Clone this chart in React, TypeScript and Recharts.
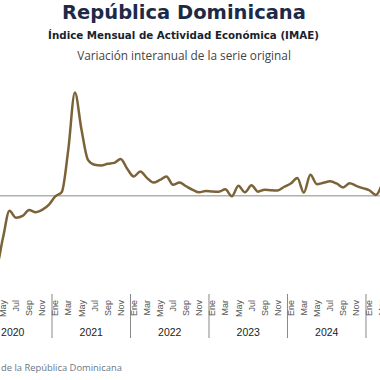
import { LineChart, Line, XAxis, YAxis, ReferenceLine } from 'recharts';

// month abbreviations used on the axis (Spanish)
const MONTHS = ['Ene', 'Feb', 'Mar', 'Abr', 'May', 'Jun', 'Jul', 'Ago', 'Sep', 'Oct', 'Nov', 'Dic'];
const YEARS = [2020, 2021, 2022, 2023, 2024, 2025];

// IMAE, variación interanual (%), serie original
const V2020 = [5.0, 5.1, -10.0, -29.8, -18.0, -6.4, -9.4, -8.6, -6.1, -7.0, -6.0, -3.9];
const V2021 = [-0.2, 1.7, 20.0, 44.2, 28.5, 15.4, 13.3, 13.0, 13.7, 14.1, 15.8, 11.6];
const V2022 = [8.3, 10.4, 7.7, 5.7, 6.8, 8.3, 4.7, 5.7, 4.1, 2.6, 1.5, 2.1];
const V2023 = [1.9, 1.8, 2.8, -0.2, 4.3, 1.5, 4.5, 1.8, 2.6, 2.4, 2.3, 3.9];
const V2024 = [5.3, 7.6, 1.4, 9.0, 5.0, 5.6, 6.2, 5.3, 3.6, 5.4, 4.3, 3.3];
const V2025 = [2.4, 0.4, 5.5];

const SERIES = [V2020, V2021, V2022, V2023, V2024, V2025];

const rows = SERIES.flatMap((vals, y) =>
  vals.map((v, m) => ({ i: y * 12 + m, value: v })),
);

// one axis carries month labels (every 2nd month), year labels (mid-year) and year separators
// the first visible month label is May 2020
const monthTicks = rows.filter((r) => r.i % 2 === 0 && r.i >= 4).map((r) => r.i);
const yearMidTicks = YEARS.slice(0, 5).map((_, k) => k * 12 + 5.5);
const yearSepTicks = YEARS.slice(0, 5).map((_, k) => k * 12 + 11.5);
const allTicks = [...monthTicks, ...yearMidTicks, ...yearSepTicks].sort((a, b) => a - b);

const AXIS_FONT = '"Liberation Sans", Arial, sans-serif';
const LINE_COLOR = '#7b6337';

function AxisTick({ x, y, payload }: any) {
  const v = payload.value;
  const r = ((v % 12) + 12) % 12;
  if (r === 11.5) {
    return <line x1={x} x2={x} y1={y} y2={y + 44} stroke="#888" strokeWidth={1} />;
  }
  if (r === 5.5) {
    return (
      <text x={x} y={y + 35} dy="0.71em" textAnchor="middle" fontSize={10.5} fontFamily={AXIS_FONT} fill="#222">
        {YEARS[Math.floor(v / 12)]}
      </text>
    );
  }
  const ty = y + 6;
  return (
    <text
      x={x}
      y={ty}
      transform={`rotate(-90 ${x} ${ty})`}
      textAnchor="end"
      dy="0.35em"
      fontSize={9}
      fontFamily={AXIS_FONT}
      fill="#555"
    >
      {MONTHS[r]}
    </text>
  );
}

export default function App() {
  return (
    <div style={{ position: 'absolute', left: 0, top: 0, width: 380, height: 380, overflow: 'hidden', background: '#fff' }}>
      <div style={{ position: 'absolute', left: -40, top: 0 }}>
        <LineChart width={440} height={380} data={rows} margin={{ top: 65, right: 14.4, bottom: 0, left: 13.5 }}>
          <XAxis
            dataKey="i"
            type="number"
            domain={[-0.5, 62.5]}
            allowDataOverflow
            ticks={allTicks}
            interval={0}
            height={86}
            axisLine={false}
            tickLine={false}
            tickSize={0}
            tickMargin={0}
            tick={<AxisTick />}
          />
          <YAxis hide type="number" domain={[-42, 56]} allowDataOverflow />
          <ReferenceLine y={0} stroke="#888" strokeWidth={1} />
          <Line
            type="monotone"
            dataKey="value"
            stroke={LINE_COLOR}
            strokeWidth={2.5}
            dot={false}
            activeDot={false}
            isAnimationActive={false}
          />
        </LineChart>
      </div>
      <svg width={380} height={380} style={{ position: 'absolute', left: 0, top: 0, pointerEvents: 'none' }}>
        <text x={184} y={18.5} textAnchor="middle" fontFamily='"DejaVu Sans", sans-serif' fontWeight="bold" fontSize={19.5} fill="#1c2a47">
          República Dominicana
        </text>
        <text x={183.5} y={39} textAnchor="middle" fontFamily='"DejaVu Sans", sans-serif' fontWeight="bold" fontSize={10.3} fill="#1a1f2e">
          Índice Mensual de Actividad Económica (IMAE)
        </text>
        <text x={184} y={60} textAnchor="middle" fontFamily='"Open Sans", sans-serif' fontSize={11.8} fill="#444">
          Variación interanual de la serie original
        </text>
        <text x={1} y={371} fontFamily='"Open Sans", sans-serif' fontSize={9.4} fill="#6b7784">
          de la República Dominicana
        </text>
      </svg>
    </div>
  );
}
